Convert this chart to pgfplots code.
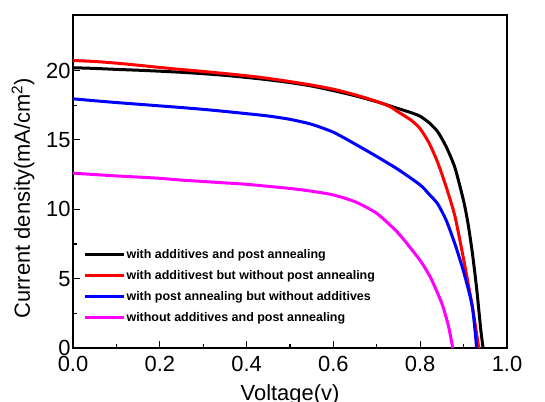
\documentclass[border=0pt]{standalone}
\usepackage{fontspec}
\setmainfont{Liberation Sans}
\usepackage{pgfplots}
\pgfplotsset{compat=1.18}
\usetikzlibrary{calc}
\definecolor{jblack}{RGB}{0,0,0}
\definecolor{jred}{RGB}{255,0,0}
\definecolor{jblue}{RGB}{0,0,255}
\definecolor{jmag}{RGB}{255,0,255}

\begin{document}
\begin{tikzpicture}
\begin{axis}[
    scale only axis,
    width=434bp, height=333bp,
    xmin=0, xmax=1.0,
    ymin=0, ymax=24,
    xtick={0,0.2,...,1.0},
    minor x tick num=1,
    ytick={0,5,10,15,20},
    minor y tick num=1,
    xtick pos=bottom, ytick pos=left,
    tick align=inside,
    major tick length=7bp, minor tick length=4.5bp,
    every tick/.style={line width=1.2bp, black},
    axis line style={line width=1.8bp},
    /pgf/number format/assume math mode=true,
    tick label style={font=\fontsize{22}{26}\selectfont},
    xticklabel style={/pgf/number format/fixed, /pgf/number format/fixed zerofill,
        /pgf/number format/precision=1, yshift=-5bp},
    yticklabel style={xshift=1bp},
    label style={font=\fontsize{22}{26}\selectfont},
    xlabel={Voltage(v)},
    ylabel={Current density(mA/cm\textsuperscript{2})},
    xlabel style={at={(axis description cs:0.5,0)}, anchor=north, inner sep=0pt, yshift=-36bp},
    ylabel style={at={(axis description cs:-0.115,0.45)}, anchor=center},
    legend cell align=left,
    legend image code/.code={\draw[#1] (0bp,0bp) -- (39bp,0bp);},
    legend style={draw=none, fill=none, at={(axis cs:0.017,7.32)}, anchor=north west,
        font=\bfseries\fontsize{12.5}{14}\selectfont,
        nodes={inner xsep=1pt, inner ysep=1pt}, row sep=8.5bp,
        /tikz/every odd column/.append style={column sep=0pt}},
    every axis plot/.append style={line width=3bp, smooth, tension=0.4},
]
\addplot[jblack] coordinates {
(0,20.2)(0.05,20.15)(0.1,20.08)(0.15,20.02)(0.2,19.95)(0.25,19.87)(0.3,19.77)(0.35,19.65)
(0.4,19.5)(0.45,19.33)(0.5,19.13)(0.55,18.88)(0.6,18.55)(0.65,18.18)(0.7,17.75)(0.75,17.25)
(0.78,16.95)(0.8,16.7)(0.82,16.25)(0.84,15.6)(0.86,14.5)(0.88,13.0)(0.9,10.6)(0.91,9.0)
(0.92,6.9)(0.93,4.3)(0.94,1.2)(0.945,0)
};
\addlegendentry{with additives and post annealing}
\addplot[jred] coordinates {
(0,20.72)(0.05,20.65)(0.1,20.53)(0.15,20.38)(0.2,20.22)(0.25,20.07)(0.3,19.93)(0.35,19.78)
(0.4,19.62)(0.45,19.43)(0.5,19.2)(0.55,18.95)(0.6,18.65)(0.65,18.25)(0.7,17.77)(0.73,17.4)
(0.75,17.0)(0.78,16.4)(0.8,15.8)(0.82,14.8)(0.84,13.4)(0.86,11.6)(0.88,9.5)(0.9,6.4)
(0.92,3.0)(0.935,0)
};
\addlegendentry{with additivest but without post annealing}
\addplot[jblue] coordinates {
(0,17.96)(0.05,17.82)(0.1,17.69)(0.15,17.57)(0.2,17.45)(0.25,17.33)(0.3,17.2)(0.35,17.05)
(0.4,16.89)(0.45,16.72)(0.5,16.48)(0.55,16.12)(0.6,15.55)(0.65,14.7)(0.7,13.8)(0.75,12.85)
(0.8,11.75)(0.82,11.1)(0.84,10.4)(0.86,9.2)(0.88,7.5)(0.9,5.5)(0.92,3.0)(0.93,0)
};
\addlegendentry{with post annealing but without additives}
\addplot[jmag] coordinates {
(0,12.6)(0.05,12.5)(0.1,12.4)(0.15,12.32)(0.2,12.23)(0.25,12.1)(0.3,12.0)(0.35,11.9)
(0.4,11.8)(0.45,11.65)(0.5,11.5)(0.55,11.3)(0.6,11.03)(0.65,10.54)(0.7,9.7)(0.75,8.26)
(0.8,6.3)(0.825,5.0)(0.85,3.2)(0.865,1.6)(0.875,0)
};
\addlegendentry{without additives and post annealing}
\coordinate (ll) at (rel axis cs:0,0);
\coordinate (ur) at (rel axis cs:1,1);
\end{axis}
\pgfresetboundingbox
\path[use as bounding box] ($(ll)+(-73bp,-53.3bp)$) rectangle ($(ur)+(38bp,15bp)$);
\end{tikzpicture}
\end{document}
